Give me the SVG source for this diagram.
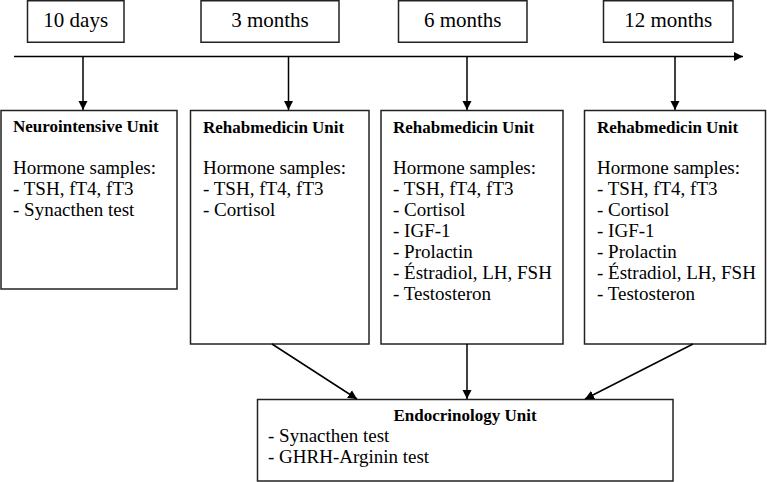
<svg xmlns="http://www.w3.org/2000/svg" width="767" height="482" viewBox="0 0 767 482">
<defs>
<marker id="ah" markerWidth="10" markerHeight="10" refX="9" refY="5" orient="auto" markerUnits="userSpaceOnUse">
<path d="M0,0.5 L9,5 L0,9.5 Z" fill="#000"/>
</marker>
</defs>
<style>
.box{fill:#fff;stroke:#222;stroke-width:1.5}
.lbl{font-size:21px;fill:#000}
.t{font-size:19px;fill:#000}
.b{font-size:17px;font-weight:bold;fill:#000}
.c{stroke:#000;stroke-width:1.5;fill:none;marker-end:url(#ah)}
</style>
<rect width="767" height="482" fill="#fff"/>
<g font-family="Liberation Serif, DejaVu Serif, serif">
<g id="t10d"><rect class="box" x="27.5" y="0.75" width="96.5" height="41.5"/><text class="lbl" x="75.7" y="27" text-anchor="middle">10 days</text></g>
<g id="t3m"><rect class="box" x="201" y="0.75" width="138" height="41.5"/><text class="lbl" x="270" y="27" text-anchor="middle">3 months</text></g>
<g id="t6m"><rect class="box" x="398.5" y="0.75" width="128.5" height="41.5"/><text class="lbl" x="462.7" y="27" text-anchor="middle">6 months</text></g>
<g id="t12m"><rect class="box" x="603.5" y="0.75" width="129.5" height="41.5"/><text class="lbl" x="668.2" y="27" text-anchor="middle">12 months</text></g>
<g id="neuro"><rect class="box" x="1" y="110.5" width="176" height="178.5"/>
<text class="b" x="13" y="132">Neurointensive Unit</text>
<text class="t" x="13" y="174">Hormone samples:</text>
<text class="t" x="13" y="195">- TSH, fT4, fT3</text>
<text class="t" x="13" y="216">- Synacthen test</text></g>
<g id="rehab3m"><rect class="box" x="190.5" y="110.5" width="178.5" height="233.5"/>
<text class="b" x="203" y="133">Rehabmedicin Unit</text>
<text class="t" x="203" y="174">Hormone samples:</text>
<text class="t" x="203" y="195">- TSH, fT4, fT3</text>
<text class="t" x="203" y="216">- Cortisol</text></g>
<g id="rehab6m"><rect class="box" x="381" y="110.5" width="182" height="233.5"/>
<text class="b" x="393" y="133">Rehabmedicin Unit</text>
<text class="t" x="393" y="174">Hormone samples:</text>
<text class="t" x="393" y="195">- TSH, fT4, fT3</text>
<text class="t" x="393" y="216">- Cortisol</text>
<text class="t" x="393" y="237">- IGF-1</text>
<text class="t" x="393" y="258">- Prolactin</text>
<text class="t" x="393" y="279">- Éstradiol, LH, FSH</text>
<text class="t" x="393" y="300">- Testosteron</text></g>
<g id="rehab12m"><rect class="box" x="584.5" y="110.5" width="181" height="233.5"/>
<text class="b" x="597" y="133">Rehabmedicin Unit</text>
<text class="t" x="597" y="174">Hormone samples:</text>
<text class="t" x="597" y="195">- TSH, fT4, fT3</text>
<text class="t" x="597" y="216">- Cortisol</text>
<text class="t" x="597" y="237">- IGF-1</text>
<text class="t" x="597" y="258">- Prolactin</text>
<text class="t" x="597" y="279">- Éstradiol, LH, FSH</text>
<text class="t" x="597" y="300">- Testosteron</text></g>
<g id="endo"><rect class="box" x="257.5" y="399.5" width="415.5" height="81.5"/>
<text class="b" x="465" y="421" text-anchor="middle">Endocrinology Unit</text>
<text class="t" x="268" y="442">- Synacthen test</text>
<text class="t" x="268" y="463">- GHRH-Arginin test</text></g>
</g>
<g id="connectors">
<line class="c" x1="14" y1="56.5" x2="743" y2="56.5"/>
<line class="c" x1="83" y1="56.5" x2="83" y2="110"/>
<line class="c" x1="288.5" y1="56.5" x2="288.5" y2="110"/>
<line class="c" x1="467" y1="56.5" x2="467" y2="110"/>
<line class="c" x1="675" y1="56.5" x2="675" y2="110"/>
<line class="c" x1="272" y1="344" x2="357" y2="399"/>
<line class="c" x1="467" y1="344" x2="467" y2="399"/>
<line class="c" x1="693" y1="344" x2="585" y2="399"/>
</g>
</svg>
